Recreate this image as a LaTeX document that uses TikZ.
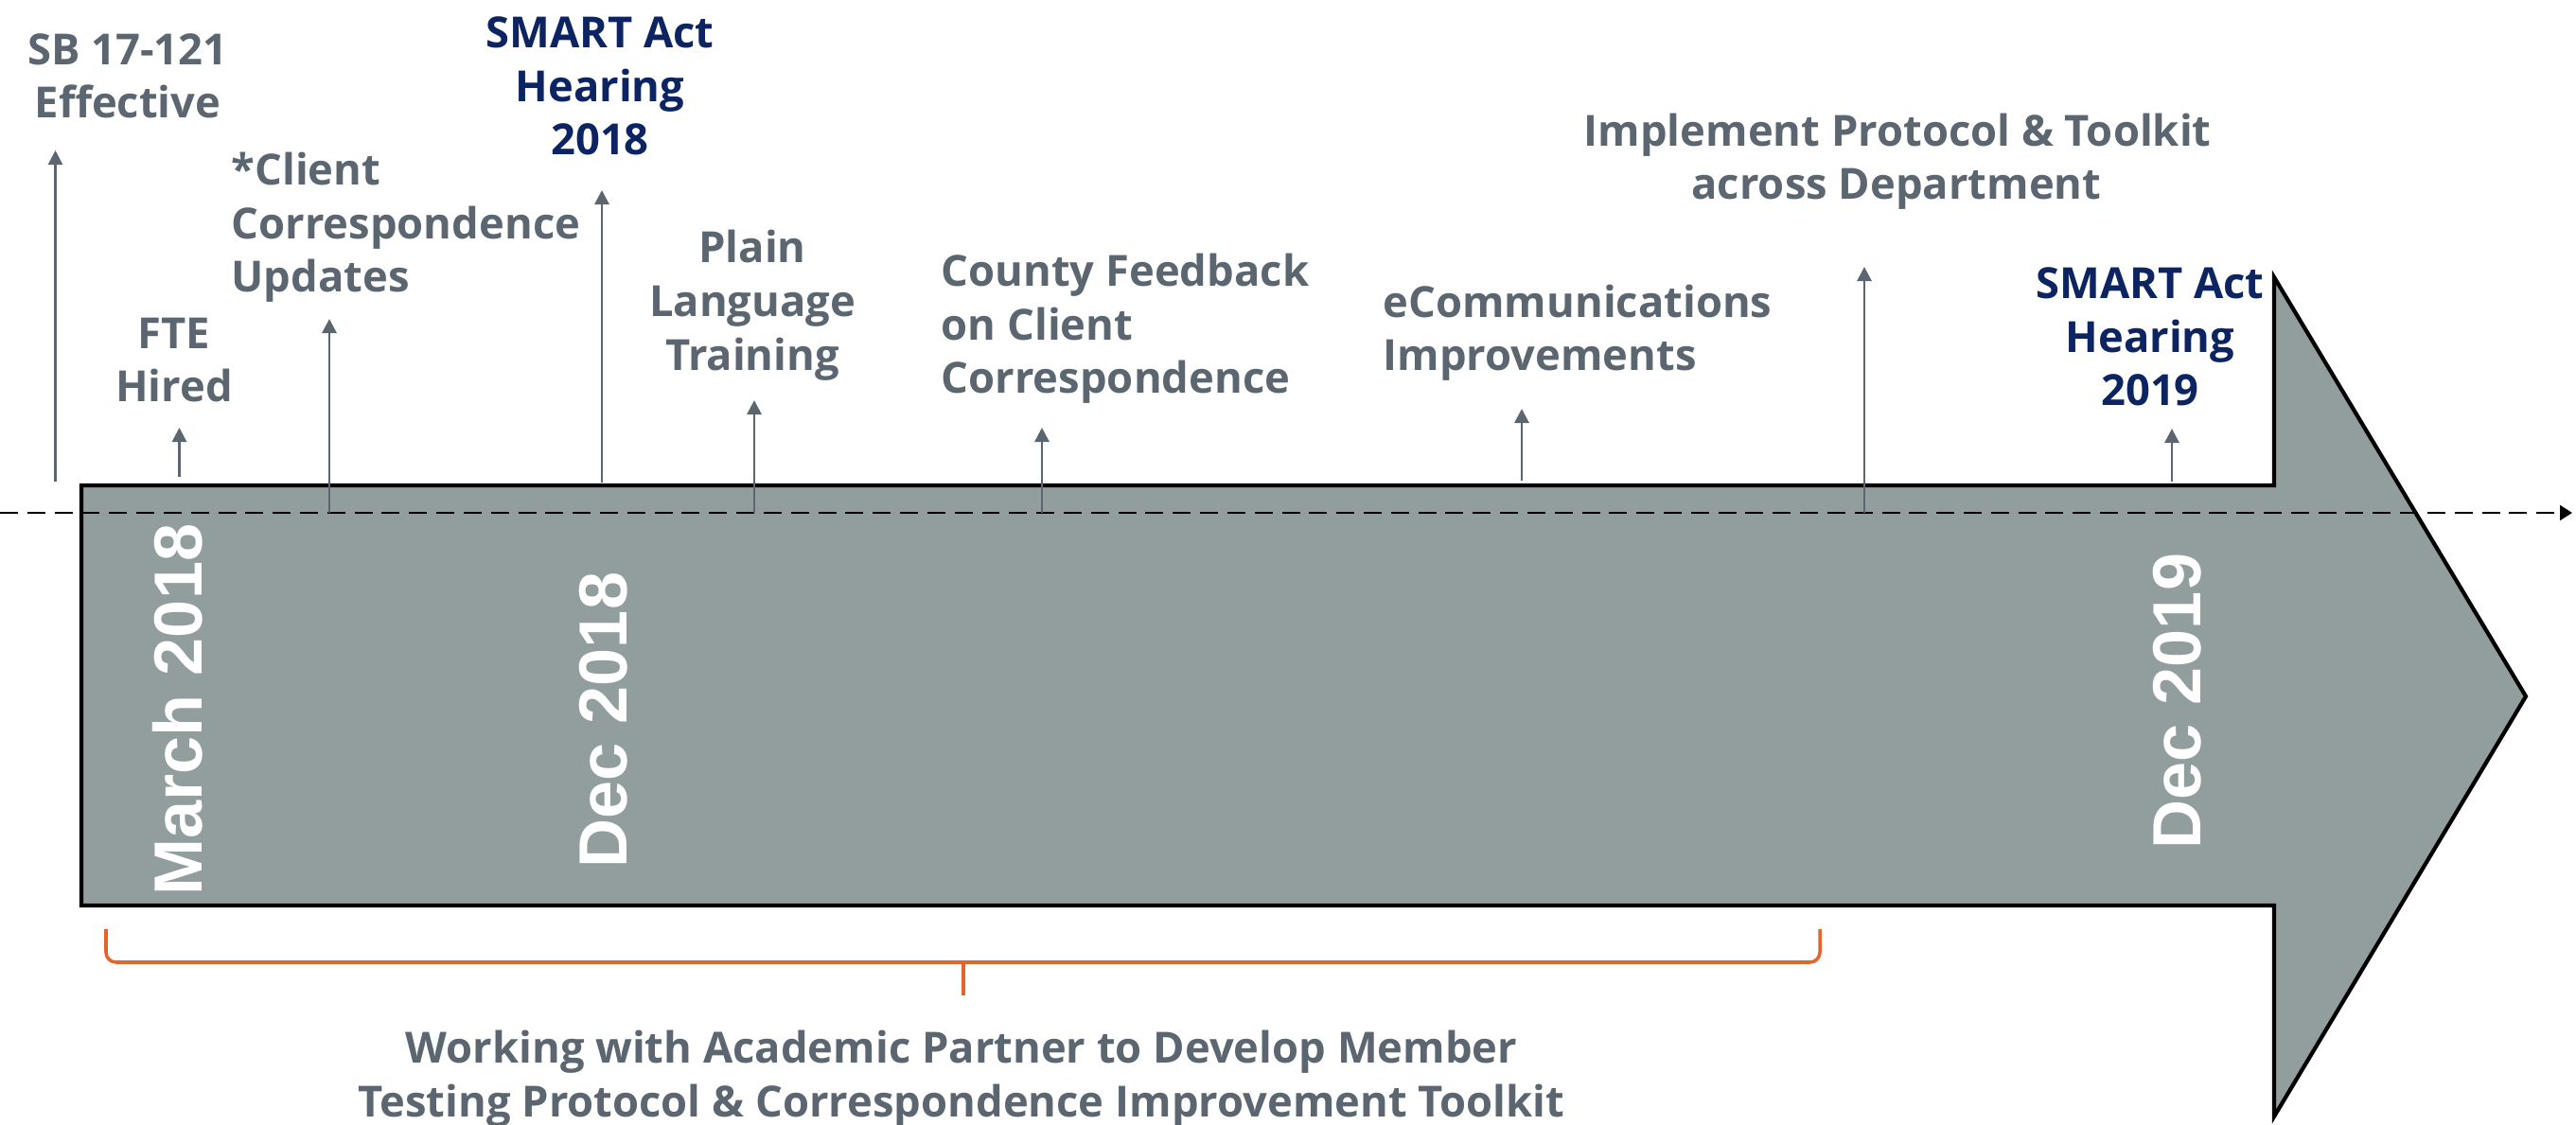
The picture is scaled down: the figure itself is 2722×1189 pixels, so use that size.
\documentclass[tikz,border=0pt]{standalone}
\usepackage{fontspec}
\setmainfont{Open Sans}
\newfontfamily\datefont{Liberation Sans}
\usetikzlibrary{arrows.meta, positioning}
\definecolor{slate}{HTML}{5B6670}
\definecolor{navy}{HTML}{0C2461}
\definecolor{barfill}{HTML}{929E9D}
\definecolor{braceorange}{HTML}{E8632B}
\begin{document}
\begin{tikzpicture}[x=0.1mm, y=-0.1mm, >={Triangle[width=4.3pt,length=4.3pt]}]
\tikzstyle{lbl}=[font=\fontsize{12.9}{16.2}\selectfont\bfseries, text=slate, inner sep=0pt, anchor=base, align=center]
\tikzstyle{lblleft}=[lbl, anchor=base west, align=left]
\tikzstyle{hearing}=[lbl, text=navy]
\tikzstyle{date}=[font=\datefont\bfseries\fontsize{20.5}{24}\selectfont, text=white, rotate=90, anchor=base, inner sep=0pt]
\tikzstyle{tick}=[->, draw=slate, line width=0.8pt]
\tikzstyle{axis}=[draw=black, line width=0.75pt, dash pattern=on 5.4pt off 2.8pt, -{Triangle[width=4.5pt,length=3.7pt]}]
\tikzstyle{bracket}=[draw=braceorange, line width=1pt, rounded corners=3pt]
\useasboundingbox (0,0) rectangle (2722,1189);
% the big arrow
\draw[fill=barfill, line width=1.2pt] (86,513) -- (2403,513) -- (2403,293) -- (2669,736)
  -- (2403,1180) -- (2403,957) -- (86,957) -- cycle;
\coordinate (axisL) at (0,542);
\coordinate (axisR) at (2718,542);
\draw[axis] (axisL) -- (axisR);
% dates
\node[date] (mar18) at (213,750) {March 2018};
\node[date] (dec18) at (662,761) {Dec 2018};
\node[date] (dec19) at (2325,741) {Dec 2019};
% events (nodes sit on the baseline of their last line)
\node[lbl] (sb) at (135,125) {SB 17-121\\Effective};
\coordinate (sbfoot) at (58.5,509);
\coordinate (sbtip) at (58.5,159);
\draw[tick] (sbfoot) -- (sbtip);
\node[lbl] (fte) at (184,425) {FTE\\Hired};
\coordinate (ftefoot) at (189.5,504);
\coordinate (ftetip) at (189.5,452);
\draw[tick] (ftefoot) -- (ftetip);
\node[lblleft] (client) at (244,309) {*Client\\Correspondence\\Updates};
\coordinate (clientfoot) at (348,542);
\coordinate (clienttip) at (348,337);
\draw[tick] (clientfoot) -- (clienttip);
\node[hearing] (smart18) at (634,164) {SMART Act\\Hearing\\2018};
\coordinate (smart18foot) at (636,510);
\coordinate (smart18tip) at (636,201);
\draw[tick] (smart18foot) -- (smart18tip);
\node[lbl] (plain) at (795,391.5) {Plain\\Language\\Training};
\coordinate (plainfoot) at (797,542);
\coordinate (plaintip) at (797,423);
\draw[tick] (plainfoot) -- (plaintip);
\node[lblleft] (county) at (994,416) {County Feedback\\on Client\\Correspondence};
\coordinate (countyfoot) at (1101,542);
\coordinate (countytip) at (1101,452);
\draw[tick] (countyfoot) -- (countytip);
\node[lblleft] (ecomm) at (1461,392) {eCommunications\\Improvements};
\coordinate (ecommfoot) at (1608,508);
\coordinate (ecommtip) at (1608,432);
\draw[tick] (ecommfoot) -- (ecommtip);
\node[lblleft] (implement) at (1673,211) {Implement Protocol \& Toolkit\\\hspace*{32.4pt}across Department};
\coordinate (implementfoot) at (1970,542);
\coordinate (implementtip) at (1970,282);
\draw[tick] (implementfoot) -- (implementtip);
\node[hearing] (smart19) at (2272,429) {SMART Act\\Hearing\\2019};
\coordinate (smart19foot) at (2295,509);
\coordinate (smart19tip) at (2295,453);
\draw[tick] (smart19foot) -- (smart19tip);
% bracket
\coordinate (braceL) at (112,982);
\coordinate (braceR) at (1923,982);
\coordinate (braceC) at (1018,1017);
\coordinate (braceM) at (1018,1052);
\draw[bracket] (braceL) |- (braceC) -| (braceR);
\draw[bracket] (braceC) -- (braceM);
\node[lbl] (academic) at (1016,1180) {Working with Academic Partner to Develop Member\\Testing Protocol \& Correspondence Improvement Toolkit};
\end{tikzpicture}
\end{document}
